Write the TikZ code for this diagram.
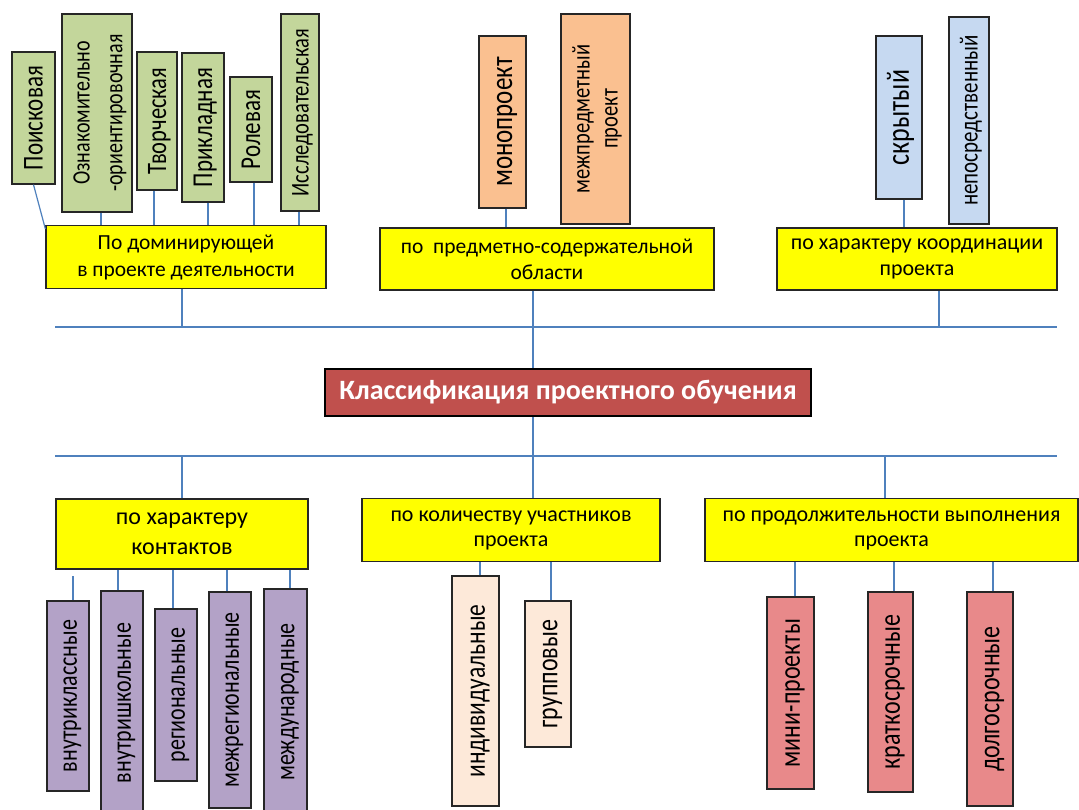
\documentclass[tikz,border=0pt]{standalone}
\usepackage{fontspec}
\setmainfont{Carlito}
\usetikzlibrary{calc}
\definecolor{cgreen}{HTML}{C3D69B}
\definecolor{corange}{HTML}{FAC090}
\definecolor{cblue}{HTML}{C6D9F1}
\definecolor{cyellow}{HTML}{FFFF00}
\definecolor{cpurple}{HTML}{B3A2C7}
\definecolor{cpeach}{HTML}{FDE9D9}
\definecolor{cred}{HTML}{E8898A}
\definecolor{ctitle}{HTML}{C0504D}
\definecolor{connblue}{HTML}{4F81BD}
\newcommand{\rottxt}[3]{\hspace*{5pt}\rotatebox{90}{\scalebox{1}[1.25]{\fontsize{#1}{#2}\selectfont\begin{tabular}{@{}c@{}}#3\end{tabular}}}}
\newcommand{\vconn}[3]{\draw[conn] ($(#1)+(#3,0)$) -- ($(#1 |- #2)+(#3,0)$);}
\tikzset{
  box/.style={draw=black!85, line width=1.3pt, inner sep=0pt, align=center},
  ybox/.style={box, fill=cyellow},
  conn/.style={draw=connblue, line width=1.2pt},
}
\begin{document}
\begin{tikzpicture}[x=1pt,y=-1pt]
\clip (0,0) rectangle (1079,809);
\fill[white] (0,0) rectangle (1079,809);
% ---- top-left group
\node[box, fill=cgreen, minimum width=43pt, minimum height=132pt] (pois) at (33.5,118) {\rottxt{23}{26}{Поисковая}};
\node[box, fill=cgreen, minimum width=66pt, minimum height=198pt] (oz) at (97,113) {\rottxt{20}{26}{Ознакомительно\\-ориентировочная}};
\node[box, fill=cgreen, minimum width=40pt, minimum height=138pt] (tv) at (157,121) {\rottxt{22.5}{26}{Творческая}};
\node[box, fill=cgreen, minimum width=42pt, minimum height=149pt] (pr) at (203,127.5) {\rottxt{23}{26}{Прикладная}};
\node[box, fill=cgreen, minimum width=42pt, minimum height=105pt] (rol) at (251,129.5) {\rottxt{23}{26}{Ролевая}};
\node[box, fill=cgreen, minimum width=38pt, minimum height=197pt] (isl) at (300,112.5) {\rottxt{20.5}{24}{Исследовательская}};
\node[ybox, minimum width=280pt, minimum height=63pt, font=\fontsize{21.5}{27}\selectfont] (yel1) at (186,257) {По доминирующей\\в проекте деятельности};
% ---- top-middle group
\node[box, fill=corange, minimum width=47pt, minimum height=172pt] (mono) at (502.5,122) {\rottxt{25}{28}{монопроект}};
\node[box, fill=corange, minimum width=69pt, minimum height=210pt] (mezh) at (595.5,119) {\rottxt{20.5}{22.5}{межпредметный\\проект}};
\node[ybox, minimum width=334pt, minimum height=62pt, font=\fontsize{21.5}{26}\selectfont] (yel2) at (547,259) {по~~предметно-содержательной\\области};
% ---- top-right group
\node[box, fill=cblue, minimum width=46pt, minimum height=163pt] (skr) at (899,117.5) {\rottxt{26}{29}{скрытый}};
\node[box, fill=cblue, minimum width=40pt, minimum height=207pt] (nep) at (969,120.5) {\rottxt{21}{24}{непосредственный}};
\node[ybox, minimum width=280pt, minimum height=62pt, font=\fontsize{22}{26}\selectfont] (yel3) at (917,259) {по характеру координации\\проекта};
% ---- title
\node[box, fill=ctitle, draw=black, line width=2.2pt, text=white, font=\bfseries\fontsize{28}{32}\selectfont, minimum width=486pt, minimum height=47pt] (title) at (568,392.5) {Классификация проектного обучения};
% ---- bottom-left group
\node[ybox, minimum width=252pt, minimum height=70pt, font=\fontsize{24}{30}\selectfont] (yel4) at (182,534) {по характеру\\контактов};
\node[box, fill=cpurple, minimum width=42pt, minimum height=190pt] (vk) at (68,696) {\rottxt{22}{25}{внутриклассные}};
\node[box, fill=cpurple, minimum width=42pt, minimum height=224pt] (vsh) at (122,703) {\rottxt{22}{25}{внутришкольные}};
\node[box, fill=cpurple, minimum width=42pt, minimum height=172pt] (reg) at (176,695) {\rottxt{22}{25}{региональные}};
\node[box, fill=cpurple, minimum width=42pt, minimum height=216pt] (mreg) at (230,700) {\rottxt{22}{25}{межрегиональные}};
\node[box, fill=cpurple, minimum width=43pt, minimum height=226pt] (mnar) at (285.5,702) {\rottxt{22}{25}{международные}};
% ---- bottom-middle group
\node[ybox, minimum width=298pt, minimum height=63pt, font=\fontsize{22}{25}\selectfont] (yel5) at (511,530) {по количеству участников\\проекта};
\node[box, fill=cpeach, minimum width=47pt, minimum height=230pt] (ind) at (475.5,691) {\rottxt{23.5}{27}{индивидуальные}};
\node[box, fill=cpeach, minimum width=46pt, minimum height=146pt] (grp) at (548,674) {\rottxt{24}{27}{групповые}};
% ---- bottom-right group
\node[ybox, minimum width=373pt, minimum height=63pt, font=\fontsize{22}{25}\selectfont] (yel6) at (891.5,530) {по продолжительности выполнения\\проекта};
\node[box, fill=cred, minimum width=47pt, minimum height=192pt] (mini) at (790.5,693) {\rottxt{24}{27}{мини-проекты}};
\node[box, fill=cred, minimum width=45pt, minimum height=200pt] (krat) at (890.5,692) {\rottxt{24}{27}{краткосрочные}};
\node[box, fill=cred, minimum width=46pt, minimum height=214pt] (dolg) at (990,699) {\rottxt{24}{27}{долгосрочные}};
% ---- trunk coordinates
\coordinate (hl1a) at (55,327);
\coordinate (hl1b) at (1057,327);
\coordinate (hl2a) at (55,456);
\coordinate (hl2b) at (1057,456);
\coordinate (t1) at (533,327);
\coordinate (t2) at (533,456);
\coordinate (vktop) at (73,576);
% ---- connectors top
\draw[conn] (pois.south) -- ([yshift=-4pt]yel1.north west);
\vconn{oz.south}{yel1.north}{4}
\vconn{tv.south}{yel1.north}{-3}
\vconn{pr.south}{yel1.north}{5}
\vconn{rol.south}{yel1.north}{3}
\vconn{isl.south}{yel1.north}{-1}
\vconn{mono.south}{yel2.north}{3.5}
\vconn{skr.south}{yel3.north}{5}
\vconn{yel1.south}{hl1a}{-4}
\vconn{yel3.south}{hl1a}{22}
\draw[conn] (yel2.south -| t1) -- (title.north -| t1);
\draw[conn] (hl1a) -- (hl1b);
% ---- connectors bottom
\draw[conn] (title.south -| t1) -- (t2);
\draw[conn] (hl2a) -- (hl2b);
\vconn{yel4.north}{hl2a}{0}
\draw[conn] (t2) -- (t2 |- yel5.north);
\vconn{yel6.north}{hl2a}{-6.5}
\draw[conn] (vktop) -- (vktop |- vk.north);
\vconn{vsh.north}{yel4.south}{-4}
\vconn{reg.north}{yel4.south}{-3}
\vconn{mreg.north}{yel4.south}{-3}
\vconn{mnar.north}{yel4.south}{4.5}
\vconn{ind.north}{yel5.south}{4.5}
\vconn{grp.north}{yel5.south}{3}
\vconn{mini.north}{yel6.south}{4.5}
\vconn{krat.north}{yel6.south}{3.5}
\vconn{dolg.north}{yel6.south}{3}
\end{tikzpicture}
\end{document}
